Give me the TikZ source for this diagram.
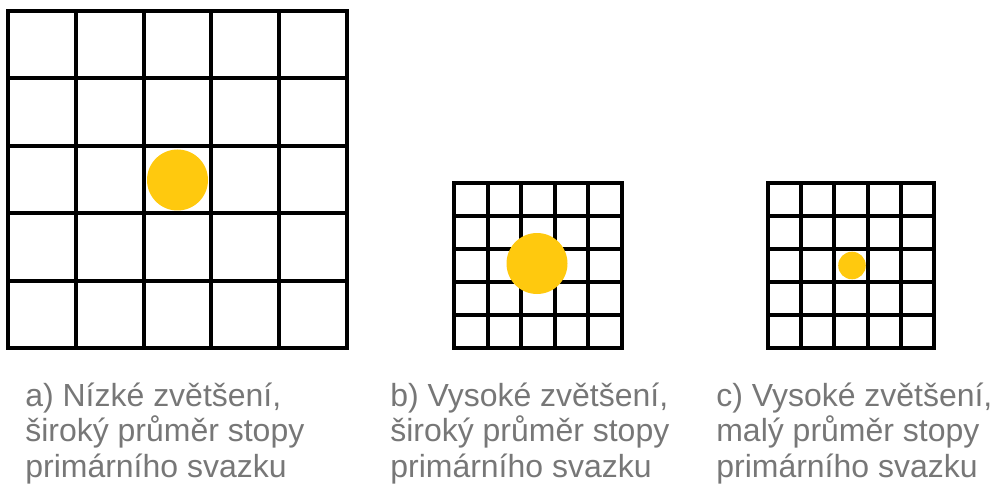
\documentclass[tikz,border=0pt]{standalone}
\usepackage{fontspec}
\setmainfont{Liberation Sans}
\usetikzlibrary{positioning}
\definecolor{Ink}{HTML}{000000}
\definecolor{Spot}{HTML}{FFC90E}
\definecolor{Caption}{HTML}{777777}
% 5x5 mesh: left, top, cell width, cell height
\newcommand{\MeshGrid}[4]{%
  \foreach \k in {0,...,5} {
    \draw[Ink,line width=2.2pt,line cap=rect] (#1+\k*#3,#2) -- (#1+\k*#3,#2+5*#4);
    \draw[Ink,line width=2.2pt,line cap=rect] (#1,#2+\k*#4) -- (#1+5*#3,#2+\k*#4);
  }%
}

\begin{document}
\begin{tikzpicture}[x=0.02cm,y=-0.02cm]
\useasboundingbox (0,0) rectangle (1000,486);
\tikzset{caption/.style={anchor=base west,align=left,inner sep=0pt,text=Caption,
  font=\fontsize{18.2pt}{20.2pt}\selectfont}}
\MeshGrid{8}{11}{67.8}{67.4}
\MeshGrid{454}{183}{33.6}{33}
\MeshGrid{768}{183}{33.2}{33}
\fill[Spot] (177.5,180) circle[radius=30.5];
\fill[Spot] (537,263.5) circle[radius=30.5];
\fill[Spot] (852,265.5) circle[radius=13.8];
\node[caption] (capA) at (25,477) {a) Nízké zvětšení,\\široký průměr stopy\\primárního svazku};
\node[caption] (capB) at (390,477) {b) Vysoké zvětšení,\\široký průměr stopy\\primárního svazku};
\node[caption] (capC) at (716,477) {c) Vysoké zvětšení,\\malý průměr stopy\\primárního svazku};
\end{tikzpicture}
\end{document}
